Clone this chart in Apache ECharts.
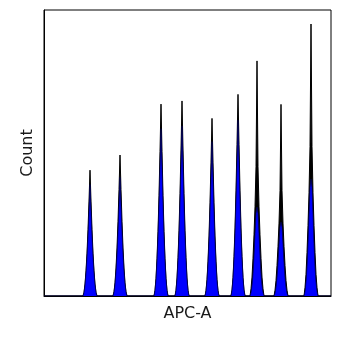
<!DOCTYPE html>
<html><head><meta charset="utf-8">
<script src="https://cdn.jsdelivr.net/npm/echarts@6/dist/echarts.min.js"></script>
<style>html,body{margin:0;padding:0;background:#fff}#c{width:362px;height:343px}</style>
</head><body><div id="c"></div>
<script>
const xAxisName = 'APC-A';
const yAxisName = 'Count';
// all events histogram (black)
const allEvents = [
  [0,0],
  [390,0],[400,13],[410,42],[420,88],[430,150],[440,232],[450,332],[460,440],[470,332],[480,232],[490,150],[500,88],[510,42],[520,13],[530,0],
  [690,0],[700,15],[710,46],[720,98],[730,168],[740,260],[750,372],[760,493],[770,372],[780,260],[790,168],[800,98],[810,46],[820,15],[830,0],
  [1100,0],[1110,20],[1120,62],[1130,132],[1140,226],[1150,352],[1160,505],[1170,671],[1180,505],[1190,352],[1200,226],[1210,132],[1220,62],[1230,20],[1240,0],
  [1310,0],[1320,20],[1330,63],[1340,134],[1350,230],[1360,358],[1370,514],[1380,682],[1390,514],[1400,358],[1410,230],[1420,134],[1430,63],[1440,20],[1450,0],
  [1610,0],[1620,19],[1630,58],[1640,122],[1650,210],[1660,326],[1670,468],[1680,621],[1690,468],[1700,326],[1710,210],[1720,122],[1730,58],[1740,19],[1750,0],
  [1870,0],[1880,21],[1890,65],[1900,138],[1910,238],[1920,370],[1930,530],[1940,705],[1950,530],[1960,370],[1970,238],[1980,138],[1990,65],[2000,21],[2010,0],
  [2060,0],[2070,25],[2080,66],[2090,132],[2100,214],[2110,312],[2120,452],[2130,822],[2140,452],[2150,312],[2160,214],[2170,132],[2180,66],[2190,25],[2200,0],
  [2300,0],[2310,20],[2320,54],[2330,107],[2340,174],[2350,255],[2360,369],[2370,670],[2380,369],[2390,255],[2400,174],[2410,107],[2420,54],[2430,20],[2440,0],
  [2600,0],[2610,29],[2620,76],[2630,152],[2640,247],[2650,361],[2660,523],[2670,951],[2680,523],[2690,361],[2700,247],[2710,152],[2720,76],[2730,29],[2740,0],
  [2870,0]
];
// gated histogram (blue)
const gatedEvents = [
  [0,0],
  [390,0],[400,12],[410,38],[420,80],[430,136],[440,210],[450,296],[460,390],[470,296],[480,210],[490,136],[500,80],[510,38],[520,12],[530,0],
  [690,0],[700,13],[710,41],[720,86],[730,146],[740,226],[750,318],[760,415],[770,318],[780,226],[790,146],[800,86],[810,41],[820,13],[830,0],
  [1100,0],[1110,19],[1120,58],[1130,122],[1140,208],[1150,320],[1160,450],[1170,585],[1180,450],[1190,320],[1200,208],[1210,122],[1220,58],[1230,19],[1240,0],
  [1310,0],[1320,19],[1330,59],[1340,124],[1350,211],[1360,325],[1370,458],[1380,595],[1390,458],[1400,325],[1410,211],[1420,124],[1430,59],[1440,19],[1450,0],
  [1610,0],[1620,17],[1630,53],[1640,112],[1650,191],[1660,294],[1670,414],[1680,540],[1690,414],[1700,294],[1710,191],[1720,112],[1730,53],[1740,17],[1750,0],
  [1870,0],[1880,20],[1890,61],[1900,128],[1910,218],[1920,336],[1930,472],[1940,615],[1950,472],[1960,336],[1970,218],[1980,128],[1990,61],[2000,20],[2010,0],
  [2060,0],[2070,12],[2080,37],[2090,78],[2100,140],[2110,218],[2120,289],[2130,311],[2140,289],[2150,218],[2160,140],[2170,78],[2180,37],[2190,12],[2200,0],
  [2300,0],[2310,10],[2320,31],[2330,65],[2340,117],[2350,181],[2360,241],[2370,259],[2380,241],[2390,181],[2400,117],[2410,65],[2420,31],[2430,10],[2440,0],
  [2600,0],[2610,16],[2620,49],[2630,102],[2640,184],[2650,286],[2660,380],[2670,409],[2680,380],[2690,286],[2700,184],[2710,102],[2720,49],[2730,16],[2740,0],
  [2870,0]
];
const chart = echarts.init(document.getElementById('c'), null, {renderer:'canvas'});
const font = 'DejaVu Sans';
chart.setOption({
  animation: false,
  grid: {left:44, right:31, top:10, bottom:47, show:true, borderColor:'#000', borderWidth:1, backgroundColor:'#fff', outerBoundsMode:'none'},
  xAxis: {type:'value', min:0, max:2870, name:xAxisName, nameLocation:'middle', nameGap:10,
    nameTextStyle:{fontFamily:font, fontSize:16, color:'#1a1a1a', verticalAlign:'top'},
    axisLine:{show:true, lineStyle:{color:'#000', width:1}}, axisTick:{show:false}, axisLabel:{show:false}, splitLine:{show:false}},
  yAxis: {type:'value', min:0, max:1000, name:yAxisName, nameLocation:'middle', nameGap:8, nameRotate:90,
    nameTextStyle:{fontFamily:font, fontSize:16, color:'#1a1a1a', verticalAlign:'bottom'},
    axisLine:{show:true, lineStyle:{color:'#000', width:1}}, axisTick:{show:false}, axisLabel:{show:false}, splitLine:{show:false}},
  series: [
    {type:'line', data:allEvents, symbol:'none', smooth:false, lineStyle:{color:'#000', width:1}, areaStyle:{color:'#000', opacity:1}, z:2},
    {type:'line', data:gatedEvents, symbol:'none', smooth:false, lineStyle:{color:'#000050', width:0.7}, areaStyle:{color:'#0000ff', opacity:1}, z:3}
  ]
});
</script></body></html>
